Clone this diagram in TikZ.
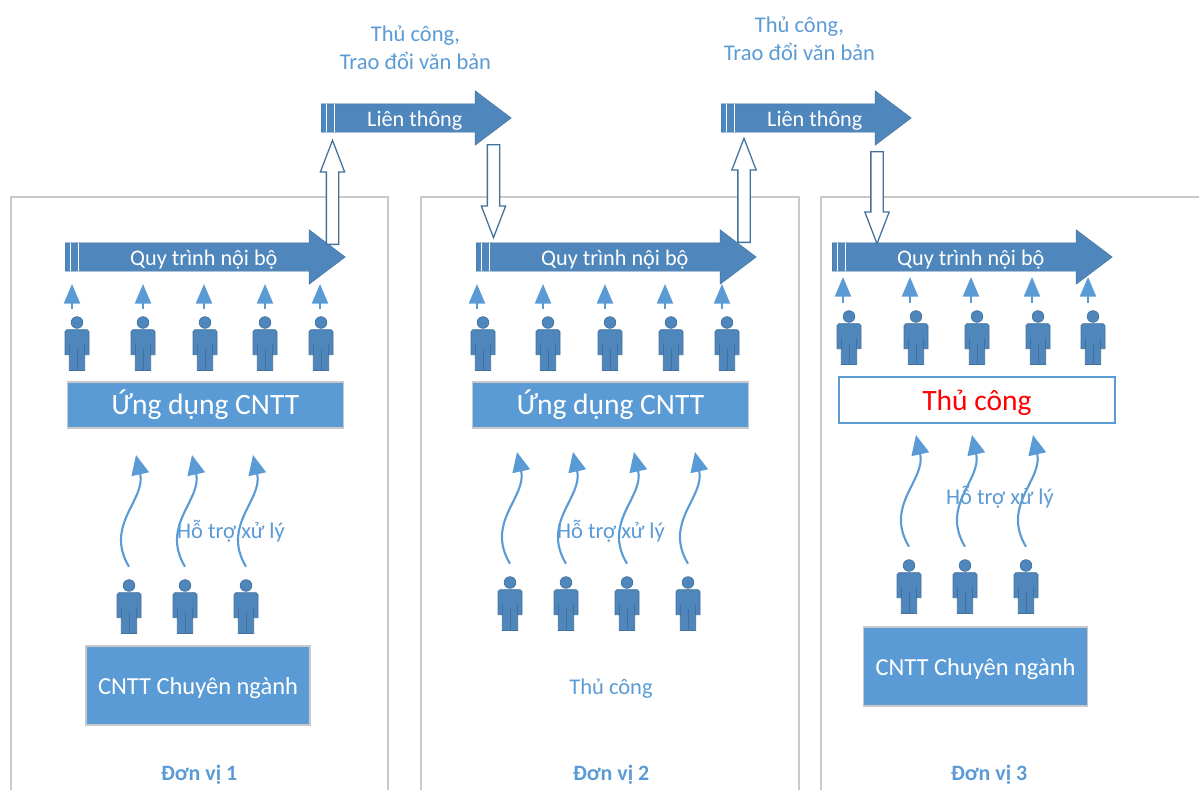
\documentclass[tikz,border=0pt]{standalone}
\usepackage{fontspec}
\setmainfont{Carlito}
\usepackage{tikz}
\usetikzlibrary{shapes.arrows, arrows.meta}
\pgfdeclarelayer{background}
\pgfsetlayers{background,main}
\definecolor{flowblue}{HTML}{4F86BB}
\definecolor{edgeblue}{HTML}{41719C}
\definecolor{boxblue}{HTML}{5B9BD5}
\definecolor{framegray}{HTML}{C9C9C9}

\begin{document}
\begin{tikzpicture}[x=0.025cm,y=-0.025cm]
        % styles %
        \tikzstyle{flow} = [single arrow,anchor=tail,fill=flowblue,draw=edgeblue,line width=0.3pt,inner sep=0pt,
                single arrow head indent=0pt,text height=0.55cm,text depth=0.15cm,single arrow head extend=0.325cm,
                single arrow tip angle=74,text=white,font=\fontsize{15.8}{18}\selectfont,
                execute at begin node={\hspace*{0.4cm}},
                path picture={\draw[white,line width=0.8pt]
                        ([xshift=0.125cm]path picture bounding box.south west) -- ([xshift=0.125cm]path picture bounding box.north west)
                        ([xshift=0.325cm]path picture bounding box.south west) -- ([xshift=0.325cm]path picture bounding box.north west);}];
        \tikzstyle{hollow} = [single arrow,anchor=tail,fill=white,draw=edgeblue,line width=0.9pt,inner sep=0pt,
                single arrow head indent=0pt,text height=0.275cm,text depth=0pt,single arrow head extend=0.15cm,single arrow tip angle=42];
        \tikzstyle{person} = [rectangle,inner sep=0pt,minimum width=0.65cm,minimum height=1.425cm,
                path picture={
                        \fill[flowblue,draw=edgeblue,line width=0.5pt] (0,-21) circle (0.145cm);
                        \fill[flowblue,draw=edgeblue,line width=0.5pt] (-10,-13.8) -- (10,-13.8) -- (12,-11.8) -- (12,11.2) -- (7.7,11.2) -- (7.7,27) -- (-7.7,27) -- (-7.7,11.2) -- (-12,11.2) -- (-12,-11.8) -- cycle;
                        \draw[edgeblue,line width=0.6pt] (-7.7,0.2) -- (-7.7,11.2) (7.7,0.2) -- (7.7,11.2) (0,5.2) -- (0,27);
                        }];
        \tikzstyle{appbox} = [rectangle,fill=boxblue,draw=framegray,line width=1.2pt,text=white,inner sep=0pt,minimum width=6.9cm,minimum height=1.15cm,font=\fontsize{21}{24}\selectfont];
        \tikzstyle{handbox} = [appbox,fill=white,draw=boxblue,text=red,text depth=0pt];
        \tikzstyle{specbox} = [appbox,minimum width=5.6cm,minimum height=1.97cm,text depth=0pt,font=\fontsize{17.4}{20}\selectfont];
        \tikzstyle{note} = [text=boxblue,align=center,font=\fontsize{16}{20}\selectfont];
        \tikzstyle{unit} = [text=boxblue,text depth=0pt,font=\fontsize{15.6}{18}\selectfont\bfseries];
        \tikzstyle{frame} = [draw=framegray,line width=1pt];
        \tikzstyle{reach} = [-{Triangle[length=14pt,width=11.5pt]},draw=boxblue,line width=1.3pt,shorten <=1.5mm];
        \tikzstyle{wave} = [-{Triangle[length=14pt,width=12.5pt]},draw=boxblue,line width=1.5pt];

        \useasboundingbox (0,0) rectangle (1199,790);

        % frames %
        \begin{pgfonlayer}{background}
        \draw[frame] (11,790) |- (388,197) -- (388,790);
        \draw[frame] (421,790) |- (799,197) -- (799,790);
        \draw[frame] (821,790) |- (1199,197);
        \end{pgfonlayer}

        % nodes %
        \node [flow,minimum height=7cm] (flow1) at (65,257) {Quy trình nội bộ};
        \node [flow,minimum height=7cm] (flow2) at (476,257) {Quy trình nội bộ};
        \node [flow,minimum height=7cm] (flow3) at (832,257) {Quy trình nội bộ};
        \node [flow,minimum height=4.75cm] (link1) at (321,118) {Liên thông};
        \node [flow,minimum height=4.75cm] (link2) at (721,118) {Liên thông};

        \node [hollow,rotate=90,minimum height=2.6cm] (up1) at (332.5,245) {};
        \node [hollow,rotate=-90,minimum height=2.325cm] (down1) at (493.5,144) {};
        \node [hollow,rotate=90,minimum height=2.6cm] (up2) at (744,243) {};
        \node [hollow,rotate=-90,minimum height=2.3cm] (down2) at (877,151) {};

        \node [note] (manual1) at (415.5,48) {Thủ công,\\Trao đổi văn bản};
        \node [note] (manual2) at (799.5,39) {Thủ công,\\Trao đổi văn bản};

        \node [appbox] (app1) at (205.5,405) {Ứng dụng CNTT};
        \node [appbox] (app2) at (610.5,405) {Ứng dụng CNTT};
        \node [handbox] (hand3) at (977,400) {Thủ công};
        \node [specbox] (spec1) at (198,685.5) {CNTT Chuyên ngành};
        \node [specbox] (spec3) at (975.5,666.5) {CNTT Chuyên ngành};

        \node [note] (help1) at (231,531) {Hỗ trợ xử lý};
        \node [note] (help2) at (611,531) {Hỗ trợ xử lý};
        \node [note] (help3) at (1000,497) {Hỗ trợ xử lý};
        \node [note] (manual4) at (611,689) {Thủ công};

        \node [unit] (unit1) at (199,773) {Đơn vị 1};
        \node [unit] (unit2) at (611,773) {Đơn vị 2};
        \node [unit] (unit3) at (989,773) {Đơn vị 3};

        % edges %
        \foreach \i/\x/\t in {1/77/72,2/143/143,3/205/204,4/265/265,5/321/320} {
                \node [person] (ma\i) at (\x,343.5) {};
                \coordinate (ta\i) at (\t,284);
                \draw[reach] (ta\i |- ma\i.north) -- (ta\i);
        }
        \foreach \i/\x/\t in {1/483/477,2/548/543,3/610/605,4/671/665,5/727/722} {
                \node [person] (mb\i) at (\x,343.5) {};
                \coordinate (tb\i) at (\t,284);
                \draw[reach] (tb\i |- mb\i.north) -- (tb\i);
        }
        \foreach \i/\x/\t in {1/849/843,2/916/910,3/977/971,4/1038/1032,5/1093/1088} {
                \node [person] (mc\i) at (\x,337.5) {};
                \coordinate (tc\i) at (\t,277);
                \draw[reach] (tc\i |- mc\i.north) -- (tc\i);
        }
        \foreach \i/\x in {1/129,2/185,3/246} {
                \node [person] (sa\i) at (\x,606.5) {};
                \coordinate (ua\i) at (\x+7,455);
                \draw[wave] ([yshift=0.275cm]sa\i.north) .. controls (\x-25,525) and (\x+17,500) .. (ua\i);
        }
        \foreach \i/\x in {1/510,2/566,3/627,4/688} {
                \node [person] (sb\i) at (\x,603.5) {};
                \coordinate (ub\i) at (\x+7,452);
                \draw[wave] ([yshift=0.275cm]sb\i.north) .. controls (\x-25,522) and (\x+17,497) .. (ub\i);
        }
        \foreach \i/\x in {1/909,2/965,3/1026} {
                \node [person] (sc\i) at (\x,586.5) {};
                \coordinate (uc\i) at (\x+7,435);
                \draw[wave] ([yshift=0.275cm]sc\i.north) .. controls (\x-25,505) and (\x+17,480) .. (uc\i);
        }
\end{tikzpicture}
\end{document}
